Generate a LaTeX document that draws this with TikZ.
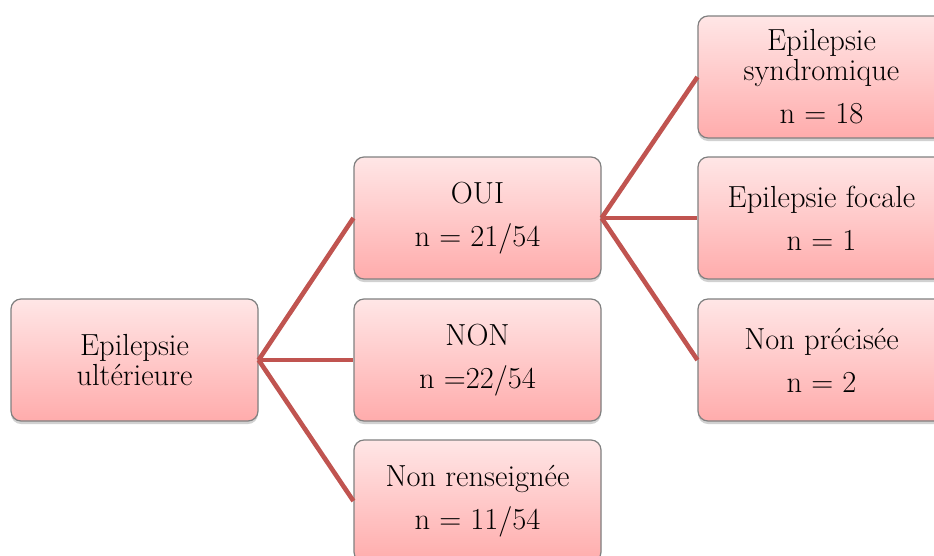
\documentclass[tikz,border=0pt]{standalone}
\usetikzlibrary{shadows}
\definecolor{linkc}{RGB}{192,84,80}
\definecolor{boxtop}{RGB}{255,230,230}
\definecolor{boxbot}{RGB}{255,172,172}
\definecolor{boxline}{RGB}{128,128,128}
\tikzset{
  box/.style={draw=boxline, line width=1.2pt, rounded corners=10pt,
    top color=boxtop, bottom color=boxbot,
    minimum width=247pt, minimum height=122pt, inner sep=0pt,
    align=center, font=\fontsize{30.5}{30}\selectfont,
    drop shadow={opacity=0.3, shadow xshift=0pt, shadow yshift=-3pt, fill=black!60}},
  link/.style={draw=linkc, line width=4.6pt}
}
\begin{document}
\begin{tikzpicture}[x=1pt,y=-1pt]
\useasboundingbox (0,0) rectangle (934,555);
\clip (0,0) rectangle (934,555);
\node[box] (root) at (134.5,360) {Epilepsie\\ultérieure};
\node[box] (oui) at (477.5,218) {OUI\\[13pt]n = 21/54};
\node[box] (non) at (477.5,360) {NON\\[13pt]n =22/54};
\node[box] (nr) at (477.5,501) {Non renseignée\\[13pt]n = 11/54};
\node[box] (syn) at (821.5,77) {Epilepsie\\syndromique\\[13pt]n = 18};
\node[box] (foc) at (821.5,218) {Epilepsie focale\\[13pt]n = 1};
\node[box] (np) at (821.5,360) {Non précisée\\[13pt]n = 2};
\draw[link] (root.east) -- (oui.west);
\draw[link] (root.east) -- (non.west);
\draw[link] (root.east) -- (nr.west);
\draw[link] (oui.east) -- (syn.west);
\draw[link] (oui.east) -- (foc.west);
\draw[link] (oui.east) -- (np.west);
\end{tikzpicture}
\end{document}
